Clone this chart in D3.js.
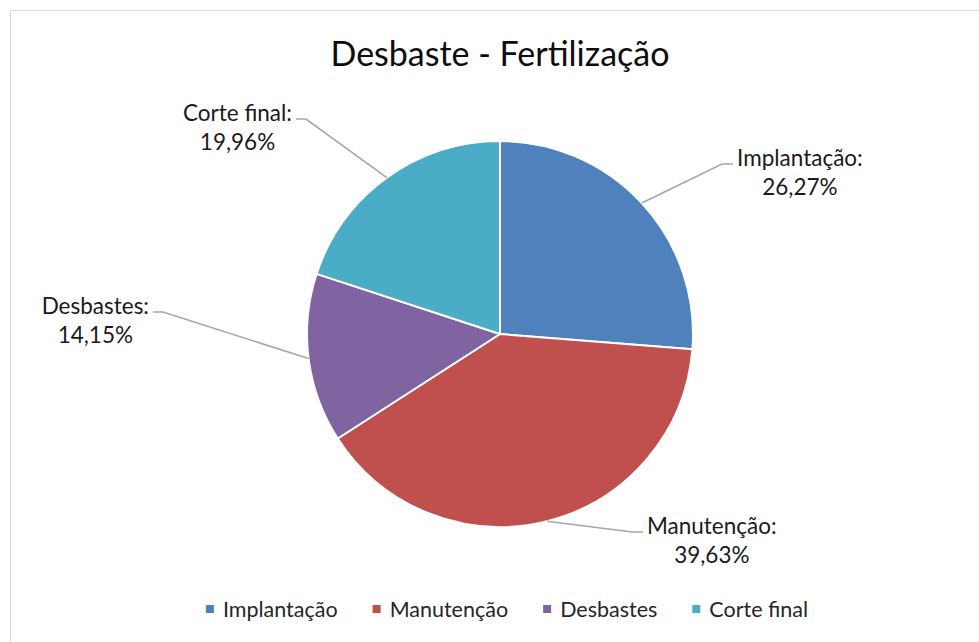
<!DOCTYPE html>
<html>
<head>
<meta charset="utf-8">
<script src="https://cdn.jsdelivr.net/npm/d3@7"></script>
<style>
  html, body { margin: 0; padding: 0; background: #fff; }
  svg { display: block; font-family: Lato, "Open Sans", sans-serif; }
</style>
</head>
<body>
<svg id="chart" width="979" height="642"></svg>
<script>
const categories = ["Implantação", "Manutenção", "Desbastes", "Corte final"];
const shares = [26.27, 39.63, 14.15, 19.96];
const colors = ["#4F81BD", "#C0504D", "#8064A2", "#4BACC6"];

// where each leader line bends, relative to the pie centre
const labelElbows = [[222, -170], [132, 198], [-337, -22], [-194, -215]];

const svg = d3.select("#chart");
const width = +svg.attr("width");
const height = +svg.attr("height");
const cx = 500, cy = 334, radius = 193;

// chart area frame
svg.append("rect")
    .attr("x", 10.5).attr("y", 10.5)
    .attr("width", width + 20).attr("height", height + 20)
    .attr("fill", "#fff")
    .attr("stroke", "#d9d9d9");

svg.append("text")
    .attr("x", cx).attr("y", 66)
    .attr("text-anchor", "middle")
    .attr("font-size", "34px")
    .attr("fill", "#0d0d0d")
    .text("Desbaste - Fertilização");

const data = categories.map((c, i) => ({ name: c, value: shares[i], color: colors[i], elbow: labelElbows[i] }));

const pie = d3.pie().sort(null).value(d => d.value);
const arc = d3.arc().innerRadius(0).outerRadius(radius);
const arcs = pie(data);

const g = svg.append("g").attr("transform", `translate(${cx},${cy})`);

g.selectAll("path.slice")
    .data(arcs)
    .enter().append("path")
    .attr("class", "slice")
    .attr("d", arc)
    .attr("fill", d => d.data.color)
    .attr("stroke", "#fff")
    .attr("stroke-width", 2)
    .attr("stroke-linejoin", "round");

const fmt = v => v.toFixed(2).replace(".", ",") + "%";

arcs.forEach(d => {
    const mid = (d.startAngle + d.endAngle) / 2;
    const start = [radius * Math.sin(mid), -radius * Math.cos(mid)];
    const [ex, ey] = d.data.elbow;
    const right = ex > 0;
    const tail = right ? ex + 11 : ex - 10;

    g.append("polyline")
        .attr("points", [start, [ex, ey], [tail, ey]].map(p => p.join(",")).join(" "))
        .attr("fill", "none")
        .attr("stroke", "#a6a6a6")
        .attr("stroke-width", 1.6);

    const label = g.append("text")
        .attr("font-size", "22.5px")
        .attr("fill", "#1a1a1a")
        .attr("text-anchor", "middle");

    const t1 = label.append("tspan").text(d.data.name + ":");
    const w = t1.node().getComputedTextLength();
    const centreX = right ? tail + 4 + w / 2 : tail - 4 - w / 2;
    t1.attr("x", centreX).attr("y", ey + 2);
    label.append("tspan")
        .attr("x", centreX).attr("y", ey + 31)
        .text(fmt(d.data.value));
});

// legend
const legend = svg.append("g").attr("font-size", "21.5px").attr("fill", "#262626");
const items = legend.selectAll("g.item")
    .data(data)
    .enter().append("g")
    .attr("class", "item");

items.append("rect")
    .attr("width", 8).attr("height", 8)
    .attr("y", 605)
    .attr("fill", d => d.color);

items.append("text")
    .attr("x", 17)
    .attr("y", 617)
    .text(d => d.name);

const gap = 35;
let widths = [];
items.each(function() { widths.push(this.getBBox().width); });
const total = d3.sum(widths) + gap * (widths.length - 1);
let x0 = 507 - total / 2;
items.attr("transform", (d, i) => {
    const x = x0;
    x0 += widths[i] + gap;
    return `translate(${x},0)`;
});
</script>
</body>
</html>
